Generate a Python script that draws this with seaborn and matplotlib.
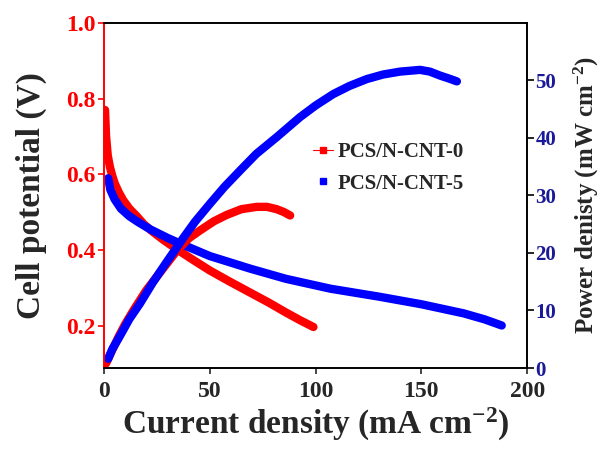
import pandas as pd
import seaborn as sns
import matplotlib.pyplot as plt
from matplotlib.lines import Line2D

# polarization + power data
i_v0 = [0.5, 1.0, 1.8, 2.8, 4.0, 5.2, 7.0, 9.1, 12, 15.5, 19, 23.3, 28, 34.4, 40.7,
        50, 60, 69, 78, 86.4, 93, 99]
v_0 = [0.77, 0.70, 0.65, 0.62, 0.595, 0.575, 0.553, 0.532, 0.51, 0.49, 0.468, 0.448,
       0.428, 0.403, 0.38, 0.347, 0.316, 0.289, 0.262, 0.235, 0.215, 0.198]
i_p0 = [1, 4, 7, 10, 13.9, 20, 26.5, 34.3, 40, 45.4, 52, 58, 65, 72.2, 77, 81.6, 85, 88]
p_0 = [0.8, 3.2, 5.5, 7.6, 10, 13.5, 16.6, 20.3, 22.5, 23.9, 25.5, 26.6, 27.6, 28.0,
       28.0, 27.6, 27.1, 26.5]

i_v5 = [2, 2.5, 3, 5, 8, 12, 16, 22, 30, 36, 50, 69, 86, 107, 130, 150, 170, 180, 188]
v_5 = [0.59, 0.575, 0.56, 0.535, 0.51, 0.49, 0.475, 0.455, 0.433, 0.418, 0.385, 0.352,
       0.325, 0.299, 0.278, 0.258, 0.234, 0.218, 0.202]
i_p5 = [2, 4, 7.6, 12, 17, 23, 29.6, 37.5, 43, 50, 57, 64.3, 72, 81.6, 92.7, 100, 108.4,
        116, 124.2, 132, 140, 149.4, 154, 158.9, 163, 166.8]
p_5 = [1.6, 3.3, 5.6, 8.5, 11.2, 14.8, 18.4, 22.6, 25.4, 28.5, 31.5, 34.3, 37.2, 40.1,
       43.6, 45.6, 47.6, 49.0, 50.2, 51.0, 51.5, 51.8, 51.5, 50.8, 50.3, 49.8]

labels = ['PCS/N-CNT-0', 'PCS/N-CNT-5']

sns.set_style('ticks')
plt.rcParams['font.family'] = ['Liberation Serif', 'DejaVu Serif']
plt.rcParams['font.weight'] = 'bold'
plt.rcParams['mathtext.default'] = 'regular'

fig = plt.figure(figsize=(6.08, 4.58), dpi=100)
ax = fig.add_axes([0.171, 0.1965, 0.696, 0.754])
ax2 = ax.twinx()

lw = 6
sns.lineplot(x=i_v0, y=v_0, ax=ax, color='#ff0000', lw=lw, sort=False, estimator=None)
sns.lineplot(x=i_v5, y=v_5, ax=ax, color='#0000ff', lw=lw, sort=False, estimator=None)
sns.lineplot(x=i_p0, y=p_0, ax=ax2, color='#ff0000', lw=lw, sort=False, estimator=None)
sns.lineplot(x=i_p5, y=p_5, ax=ax2, color='#0000ff', lw=lw, sort=False, estimator=None)

ax.set_xlim(0, 200)
ax.set_ylim(0.09, 1.0)
ax2.set_ylim(0, 60)
ax.set_xticks([0, 50, 100, 150, 200])
ax.set_yticks([0.2, 0.4, 0.6, 0.8, 1.0])
ax2.set_yticks([0, 10, 20, 30, 40, 50])

for a in (ax, ax2):
    for s in a.spines.values():
        s.set_linewidth(1.2)
        s.set_color('black')
    a.spines['top'].set_visible(True)
ax2.spines['left'].set_color('#ff0000')
ax.spines['left'].set_color('#ff0000')

ax.tick_params(axis='x', direction='out', length=4, width=1.2, labelsize=17, pad=5)
ax.tick_params(axis='y', direction='out', length=4, width=1.2, colors='#ff0000', labelsize=17, pad=2)
ax2.tick_params(axis='y', direction='out', length=5, width=1.2, color='black',
                labelcolor='#1a1a99', labelsize=15, pad=1)
for t in ax.get_xticklabels() + ax.get_yticklabels() + ax2.get_yticklabels():
    t.set_fontweight('bold')
ax.set_yticklabels(['0.2', '0.4', '0.6', '0.8', '1.0'])

ax.set_xlabel('Current density (mA cm$^{-2}$)', fontsize=24, fontweight='bold', labelpad=3)
ax.set_ylabel('Cell potential (V)', fontsize=24, fontweight='bold', labelpad=14)
ax2.set_ylabel('Power denisty (mW cm$^{-2}$)', fontsize=18, fontweight='bold', labelpad=11)

handles = [
    Line2D([], [], color='#ff0000', lw=0.8, marker='s', markersize=4),
    Line2D([], [], color='#0000ff', lw=0, marker='s', markersize=4),
]
fig.legend(handles, labels, loc='upper left', bbox_to_anchor=(0.497, 0.712),
           frameon=False, handlelength=1.0, handletextpad=0.2,
           labelspacing=0.55, borderpad=0, prop={'weight': 'bold', 'size': 15})

fig.savefig('out.png', dpi=100)
